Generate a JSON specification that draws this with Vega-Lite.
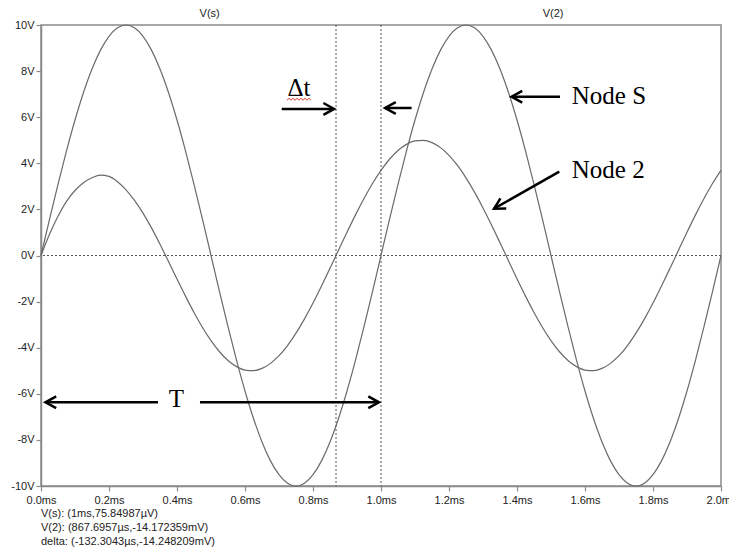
{
  "$schema": "https://vega.github.io/schema/vega-lite/v6.json",
  "width": 680,
  "height": 461,
  "autosize": {"type": "none"},
  "padding": {"left": 41, "top": 25, "right": 8, "bottom": 62},
  "background": "white",
  "config": {
    "view": {"stroke": "#8a8a8a", "strokeWidth": 1.5},
    "axis": {
      "grid": false,
      "title": null,
      "domainColor": "#8a8a8a",
      "domainWidth": 1.5,
      "tickColor": "#8a8a8a",
      "tickWidth": 1.2,
      "tickSize": 5,
      "labelFont": "Liberation Sans",
      "labelFontSize": 11,
      "labelColor": "#222222",
      "labelOverlap": false,
      "labelFlush": false
    }
  },
  "datasets": {
    "traces": [
      {"t": 0.000, "vs": 0, "v2": 0},
      {"t": 0.025, "vs": 1.564, "v2": 0.92},
      {"t": 0.050, "vs": 3.090, "v2": 1.70},
      {"t": 0.075, "vs": 4.540, "v2": 2.35},
      {"t": 0.100, "vs": 5.878, "v2": 2.82},
      {"t": 0.125, "vs": 7.071, "v2": 3.16},
      {"t": 0.150, "vs": 8.090, "v2": 3.37},
      {"t": 0.175, "vs": 8.910, "v2": 3.49},
      {"t": 0.200, "vs": 9.511, "v2": 3.43},
      {"t": 0.225, "vs": 9.877, "v2": 3.20},
      {"t": 0.250, "vs": 10, "v2": 2.85},
      {"t": 0.275, "vs": 9.877, "v2": 2.39},
      {"t": 0.300, "vs": 9.511, "v2": 1.84},
      {"t": 0.325, "vs": 8.910, "v2": 1.20},
      {"t": 0.350, "vs": 8.090, "v2": 0.49},
      {"t": 0.375, "vs": 7.071, "v2": -0.26},
      {"t": 0.400, "vs": 5.878, "v2": -1.02},
      {"t": 0.425, "vs": 4.540, "v2": -1.762},
      {"t": 0.450, "vs": 3.090, "v2": -2.472},
      {"t": 0.475, "vs": 1.564, "v2": -3.122},
      {"t": 0.500, "vs": 0, "v2": -3.695},
      {"t": 0.525, "vs": -1.564, "v2": -4.176},
      {"t": 0.550, "vs": -3.090, "v2": -4.555},
      {"t": 0.575, "vs": -4.540, "v2": -4.821},
      {"t": 0.600, "vs": -5.878, "v2": -4.969},
      {"t": 0.625, "vs": -7.071, "v2": -4.995},
      {"t": 0.650, "vs": -8.090, "v2": -4.898},
      {"t": 0.675, "vs": -8.910, "v2": -4.680},
      {"t": 0.700, "vs": -9.511, "v2": -4.347},
      {"t": 0.725, "vs": -9.877, "v2": -3.906},
      {"t": 0.750, "vs": -10, "v2": -3.370},
      {"t": 0.775, "vs": -9.877, "v2": -2.750},
      {"t": 0.800, "vs": -9.511, "v2": -2.064},
      {"t": 0.825, "vs": -8.910, "v2": -1.325},
      {"t": 0.850, "vs": -8.090, "v2": -0.555},
      {"t": 0.875, "vs": -7.071, "v2": 0.230},
      {"t": 0.900, "vs": -5.878, "v2": 1.008},
      {"t": 0.925, "vs": -4.540, "v2": 1.762},
      {"t": 0.950, "vs": -3.090, "v2": 2.472},
      {"t": 0.975, "vs": -1.564, "v2": 3.122},
      {"t": 1.000, "vs": 0, "v2": 3.695},
      {"t": 1.025, "vs": 1.564, "v2": 4.176},
      {"t": 1.050, "vs": 3.090, "v2": 4.555},
      {"t": 1.075, "vs": 4.540, "v2": 4.821},
      {"t": 1.100, "vs": 5.878, "v2": 4.969},
      {"t": 1.125, "vs": 7.071, "v2": 4.995},
      {"t": 1.150, "vs": 8.090, "v2": 4.898},
      {"t": 1.175, "vs": 8.910, "v2": 4.680},
      {"t": 1.200, "vs": 9.511, "v2": 4.347},
      {"t": 1.225, "vs": 9.877, "v2": 3.906},
      {"t": 1.250, "vs": 10, "v2": 3.370},
      {"t": 1.275, "vs": 9.877, "v2": 2.750},
      {"t": 1.300, "vs": 9.511, "v2": 2.064},
      {"t": 1.325, "vs": 8.910, "v2": 1.325},
      {"t": 1.350, "vs": 8.090, "v2": 0.555},
      {"t": 1.375, "vs": 7.071, "v2": -0.230},
      {"t": 1.400, "vs": 5.878, "v2": -1.008},
      {"t": 1.425, "vs": 4.540, "v2": -1.762},
      {"t": 1.450, "vs": 3.090, "v2": -2.472},
      {"t": 1.475, "vs": 1.564, "v2": -3.122},
      {"t": 1.500, "vs": 0, "v2": -3.695},
      {"t": 1.525, "vs": -1.564, "v2": -4.176},
      {"t": 1.550, "vs": -3.090, "v2": -4.555},
      {"t": 1.575, "vs": -4.540, "v2": -4.821},
      {"t": 1.600, "vs": -5.878, "v2": -4.969},
      {"t": 1.625, "vs": -7.071, "v2": -4.995},
      {"t": 1.650, "vs": -8.090, "v2": -4.898},
      {"t": 1.675, "vs": -8.910, "v2": -4.680},
      {"t": 1.700, "vs": -9.511, "v2": -4.347},
      {"t": 1.725, "vs": -9.877, "v2": -3.906},
      {"t": 1.750, "vs": -10, "v2": -3.370},
      {"t": 1.775, "vs": -9.877, "v2": -2.750},
      {"t": 1.800, "vs": -9.511, "v2": -2.064},
      {"t": 1.825, "vs": -8.910, "v2": -1.325},
      {"t": 1.850, "vs": -8.090, "v2": -0.555},
      {"t": 1.875, "vs": -7.071, "v2": 0.230},
      {"t": 1.900, "vs": -5.878, "v2": 1.008},
      {"t": 1.925, "vs": -4.540, "v2": 1.762},
      {"t": 1.950, "vs": -3.090, "v2": 2.472},
      {"t": 1.975, "vs": -1.564, "v2": 3.122},
      {"t": 2.000, "vs": 0, "v2": 3.695}
    ],
    "arrows": [
      {"name": "dt-in", "dir": "right", "t1": 0.708, "v1": 6.36, "t2": 0.862, "v2": 6.36},
      {"name": "dt-out", "dir": "left", "t1": 1.090, "v1": 6.40, "t2": 1.012, "v2": 6.40},
      {"name": "node-s", "dir": "left", "t1": 1.5265, "v1": 6.89, "t2": 1.384, "v2": 6.89},
      {"name": "node-2", "dir": "downleft", "t1": 1.5244, "v1": 3.636, "t2": 1.3324, "v2": 2.03},
      {"name": "period-start", "dir": "left", "t1": 0.3441, "v1": -6.37, "t2": 0.0132, "v2": -6.37},
      {"name": "period-end", "dir": "right", "t1": 0.4676, "v1": -6.37, "t2": 0.9941, "v2": -6.37}
    ],
    "notes": [
      {"label": "Δt", "t": 0.7588, "v": 6.92, "align": "center"},
      {"label": "Node S", "t": 1.561, "v": 6.57, "align": "left"},
      {"label": "Node 2", "t": 1.561, "v": 3.36, "align": "left"},
      {"label": "T", "t": 0.3985, "v": -6.57, "align": "center"}
    ],
    "spellmark": [
      {"t": 0.7235, "v": 6.735},
      {"t": 0.7294, "v": 6.82},
      {"t": 0.7353, "v": 6.735},
      {"t": 0.7412, "v": 6.82},
      {"t": 0.7471, "v": 6.735},
      {"t": 0.7530, "v": 6.82},
      {"t": 0.7588, "v": 6.735},
      {"t": 0.7647, "v": 6.82},
      {"t": 0.7706, "v": 6.735},
      {"t": 0.7765, "v": 6.82},
      {"t": 0.7824, "v": 6.735},
      {"t": 0.7883, "v": 6.82},
      {"t": 0.7941, "v": 6.735}
    ],
    "tracelabels": [
      {"label": "V(s)", "t": 0.496, "v": 10.48},
      {"label": "V(2)", "t": 1.506, "v": 10.48}
    ],
    "readout": [
      {"label": "V(s): (1ms,75.84987µV)", "t": 0, "v": -11.215},
      {"label": "V(2): (867.6957µs,-14.172359mV)", "t": 0, "v": -11.82},
      {"label": "delta: (-132.3043µs,-14.248209mV)", "t": 0, "v": -12.43}
    ]
  },
  "layer": [
    {
      "data": {"values": [{"t": 0.8676957}, {"t": 1.0}]},
      "mark": {"type": "rule", "color": "#555555", "strokeWidth": 1, "strokeDash": [2, 2]},
      "encoding": {
        "x": {"field": "t", "type": "quantitative", "scale": {"domain": [0, 2], "nice": false, "zero": false},
          "axis": {"values": [0, 0.2, 0.4, 0.6, 0.8, 1.0, 1.2, 1.4, 1.6, 1.8, 2.0], "labelExpr": "format(datum.value, '.1f') + 'ms'", "labelPadding": 3}}
      }
    },
    {
      "data": {"values": [{"v": 0}]},
      "mark": {"type": "rule", "color": "#555555", "strokeWidth": 1, "strokeDash": [2, 2]},
      "encoding": {
        "y": {"field": "v", "type": "quantitative", "scale": {"domain": [-10, 10], "nice": false, "zero": false},
          "axis": {"values": [-10, -8, -6, -4, -2, 0, 2, 4, 6, 8, 10], "labelExpr": "datum.value + 'V'", "labelPadding": 2}}
      }
    },
    {
      "data": {"name": "traces"},
      "transform": [{"fold": ["vs", "v2"], "as": ["trace", "volts"]}],
      "mark": {"type": "line", "color": "#6a6a6a", "strokeWidth": 1.2, "interpolate": "monotone"},
      "encoding": {
        "x": {"field": "t", "type": "quantitative"},
        "y": {"field": "volts", "type": "quantitative"},
        "detail": {"field": "trace", "type": "nominal"}
      }
    },
    {
      "data": {"name": "arrows"},
      "mark": {"type": "rule", "color": "black", "strokeWidth": 2.5},
      "encoding": {
        "x": {"field": "t1", "type": "quantitative"},
        "y": {"field": "v1", "type": "quantitative"},
        "x2": {"field": "t2"},
        "y2": {"field": "v2"}
      }
    },
    {
      "data": {"name": "arrows"},
      "transform": [{"filter": "datum.dir === 'right'"}],
      "mark": {"type": "point", "shape": "M-1,-0.55L0,0L-1,0.55", "filled": false, "stroke": "black", "strokeWidth": 2.5, "opacity": 1, "size": 458, "angle": 0},
      "encoding": {
        "x": {"field": "t2", "type": "quantitative"},
        "y": {"field": "v2", "type": "quantitative"}
      }
    },
    {
      "data": {"name": "arrows"},
      "transform": [{"filter": "datum.dir === 'left'"}],
      "mark": {"type": "point", "shape": "M-1,-0.55L0,0L-1,0.55", "filled": false, "stroke": "black", "strokeWidth": 2.5, "opacity": 1, "size": 458, "angle": 180},
      "encoding": {
        "x": {"field": "t2", "type": "quantitative"},
        "y": {"field": "v2", "type": "quantitative"}
      }
    },
    {
      "data": {"name": "arrows"},
      "transform": [{"filter": "datum.dir === 'downleft'"}],
      "mark": {"type": "point", "shape": "M-1,-0.55L0,0L-1,0.55", "filled": false, "stroke": "black", "strokeWidth": 2.5, "opacity": 1, "size": 458, "angle": 150.5},
      "encoding": {
        "x": {"field": "t2", "type": "quantitative"},
        "y": {"field": "v2", "type": "quantitative"}
      }
    },
    {
      "data": {"name": "notes"},
      "transform": [{"filter": "datum.align === 'center'"}],
      "mark": {"type": "text", "font": "Liberation Serif", "fontSize": 25, "color": "black", "align": "center", "baseline": "alphabetic"},
      "encoding": {
        "x": {"field": "t", "type": "quantitative"},
        "y": {"field": "v", "type": "quantitative"},
        "text": {"field": "label"}
      }
    },
    {
      "data": {"name": "notes"},
      "transform": [{"filter": "datum.align === 'left'"}],
      "mark": {"type": "text", "font": "Liberation Serif", "fontSize": 25, "color": "black", "align": "left", "baseline": "alphabetic"},
      "encoding": {
        "x": {"field": "t", "type": "quantitative"},
        "y": {"field": "v", "type": "quantitative"},
        "text": {"field": "label"}
      }
    },
    {
      "data": {"name": "spellmark"},
      "mark": {"type": "line", "color": "#e03a2a", "strokeWidth": 1},
      "encoding": {
        "x": {"field": "t", "type": "quantitative"},
        "y": {"field": "v", "type": "quantitative"}
      }
    },
    {
      "data": {"name": "tracelabels"},
      "mark": {"type": "text", "font": "Liberation Sans", "fontSize": 11, "color": "#222222", "align": "center", "baseline": "middle"},
      "encoding": {
        "x": {"field": "t", "type": "quantitative"},
        "y": {"field": "v", "type": "quantitative"},
        "text": {"field": "label"}
      }
    },
    {
      "data": {"name": "readout"},
      "mark": {"type": "text", "font": "Liberation Sans", "fontSize": 11, "color": "#222222", "align": "left", "baseline": "middle"},
      "encoding": {
        "x": {"field": "t", "type": "quantitative"},
        "y": {"field": "v", "type": "quantitative"},
        "text": {"field": "label"}
      }
    }
  ]
}
